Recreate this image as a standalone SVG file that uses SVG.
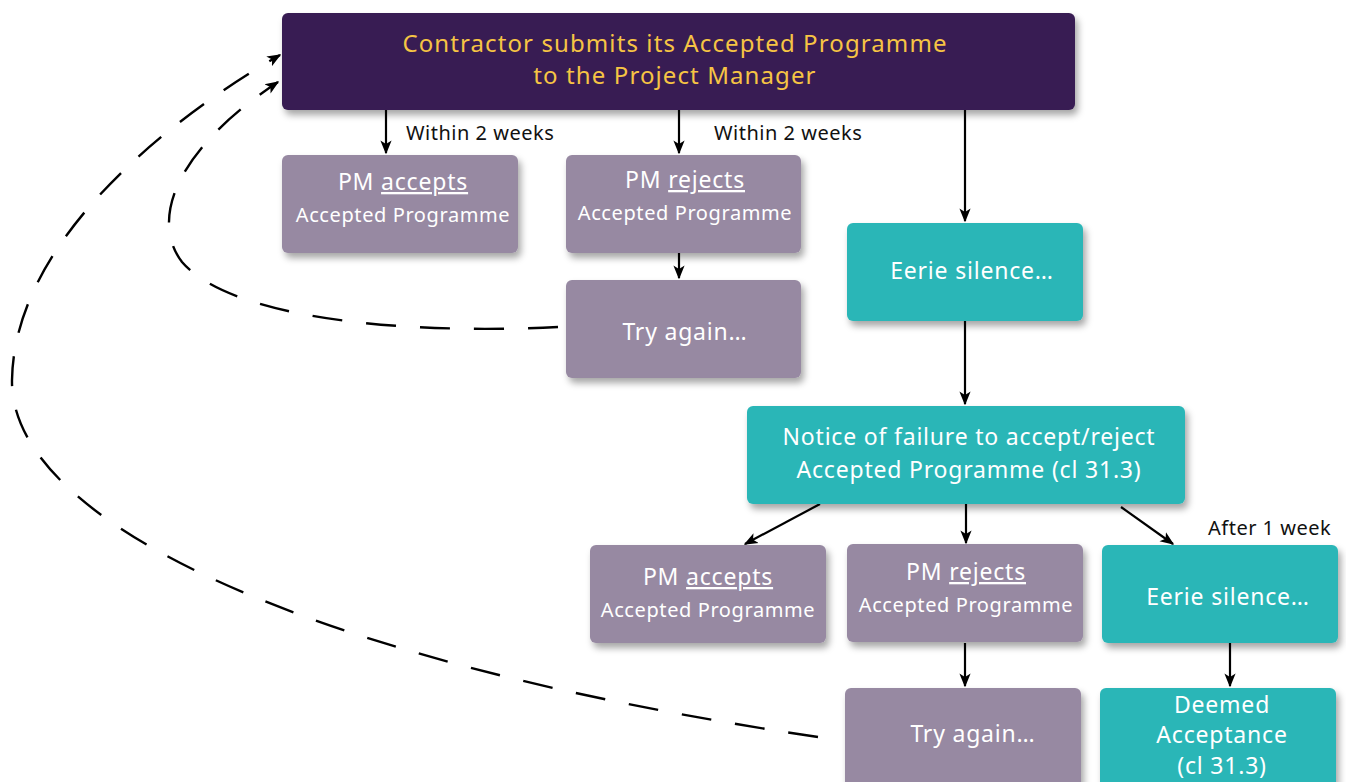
<svg xmlns="http://www.w3.org/2000/svg" width="1346" height="782" viewBox="0 0 1346 782">
<defs>
<filter id="sh" x="-10%" y="-10%" width="125%" height="135%">
<feDropShadow dx="3" dy="5" stdDeviation="3.5" flood-color="#000" flood-opacity="0.35"/>
</filter>
<marker id="ahl" viewBox="0 0 10 10" refX="9" refY="5" markerWidth="14" markerHeight="14" orient="auto" markerUnits="userSpaceOnUse">
<path d="M0,1 L10,5 L0,9 L2.5,5 Z" fill="#000"/>
</marker>
<style>
text{font-family:"Noto Sans","DejaVu Sans",sans-serif;text-anchor:middle;fill:#fff}
.dark{fill:#371f52}
.mauve{fill:#9789a2}
.teal{fill:#2cb6b7}
.title{fill:#f6c444;font-size:24px;letter-spacing:1.1px}
.big{font-size:23px;letter-spacing:0.8px}
.sm{font-size:20px;letter-spacing:0.6px}
.lbl{fill:#111;font-size:20px;letter-spacing:0.5px;text-anchor:start}
.u{text-decoration:underline}
.c{stroke:#000;stroke-width:2.2;fill:none;marker-end:url(#ahl)}
.d{stroke:#000;stroke-width:2.4;fill:none;stroke-dasharray:30 24;marker-end:url(#ahl)}
</style>
</defs>
<g id="connectors">
<path class="c" d="M386,110 V153"/>
<path class="c" d="M679,110 V153"/>
<path class="c" d="M965,110 V221"/>
<path class="c" d="M679,253 V278"/>
<path class="c" d="M965,321 V404"/>
<path class="c" d="M820,504 L745,544"/>
<path class="c" d="M966,504 V543"/>
<path class="c" d="M1121,507 L1173,544"/>
<path class="c" d="M965,643 V686"/>
<path class="c" d="M1230,643 V686"/>
<path class="d" d="M558,327 C 400,335 230,318 182,262 C 150,220 175,150 278,82"/>
<path class="d" d="M818,737 C 300,660 10,520 12,380 C 14,250 150,130 280,55"/>
<text class="lbl" x="406" y="140">Within 2 weeks</text>
<text class="lbl" x="714" y="140">Within 2 weeks</text>
<text class="lbl" x="1208" y="535">After 1 week</text>
</g>
<g id="n-submit">
<rect class="dark" x="282" y="13" width="793" height="97" rx="6" filter="url(#sh)"/>
<text class="title" x="675" y="52">Contractor submits its Accepted Programme</text>
<text class="title" x="675" y="84">to the Project Manager</text>
</g>
<g id="n-accept1">
<rect class="mauve" x="282" y="155" width="236" height="98" rx="6" filter="url(#sh)"/>
<text class="big" x="403" y="190">PM <tspan class="u">accepts</tspan></text>
<text class="sm" x="403" y="222">Accepted Programme</text>
</g>
<g id="n-reject1">
<rect class="mauve" x="566" y="155" width="235" height="98" rx="6" filter="url(#sh)"/>
<text class="big" x="685" y="188">PM <tspan class="u">rejects</tspan></text>
<text class="sm" x="685" y="220">Accepted Programme</text>
</g>
<g id="n-try1">
<rect class="mauve" x="566" y="280" width="235" height="98" rx="6" filter="url(#sh)"/>
<text class="big" x="685" y="340">Try again…</text>
</g>
<g id="n-silence1">
<rect class="teal" x="847" y="223" width="236" height="98" rx="6" filter="url(#sh)"/>
<text class="big" x="972" y="279">Eerie silence…</text>
</g>
<g id="n-notice">
<rect class="teal" x="747" y="406" width="438" height="98" rx="6" filter="url(#sh)"/>
<text class="big" x="969" y="445">Notice of failure to accept/reject</text>
<text class="big" x="969" y="478">Accepted Programme (cl 31.3)</text>
</g>
<g id="n-accept2">
<rect class="mauve" x="590" y="545" width="236" height="98" rx="6" filter="url(#sh)"/>
<text class="big" x="708" y="585">PM <tspan class="u">accepts</tspan></text>
<text class="sm" x="708" y="617">Accepted Programme</text>
</g>
<g id="n-reject2">
<rect class="mauve" x="847" y="544" width="236" height="98" rx="6" filter="url(#sh)"/>
<text class="big" x="966" y="580">PM <tspan class="u">rejects</tspan></text>
<text class="sm" x="966" y="612">Accepted Programme</text>
</g>
<g id="n-silence2">
<rect class="teal" x="1102" y="545" width="236" height="98" rx="6" filter="url(#sh)"/>
<text class="big" x="1228" y="605">Eerie silence…</text>
</g>
<g id="n-try2">
<rect class="mauve" x="845" y="688" width="236" height="110" rx="6" filter="url(#sh)"/>
<text class="big" x="973" y="742">Try again…</text>
</g>
<g id="n-deemed">
<rect class="teal" x="1100" y="688" width="236" height="110" rx="6" filter="url(#sh)"/>
<text class="big" x="1222" y="713">Deemed</text>
<text class="big" x="1222" y="743">Acceptance</text>
<text class="big" x="1222" y="774">(cl 31.3)</text>
</g>
</svg>
